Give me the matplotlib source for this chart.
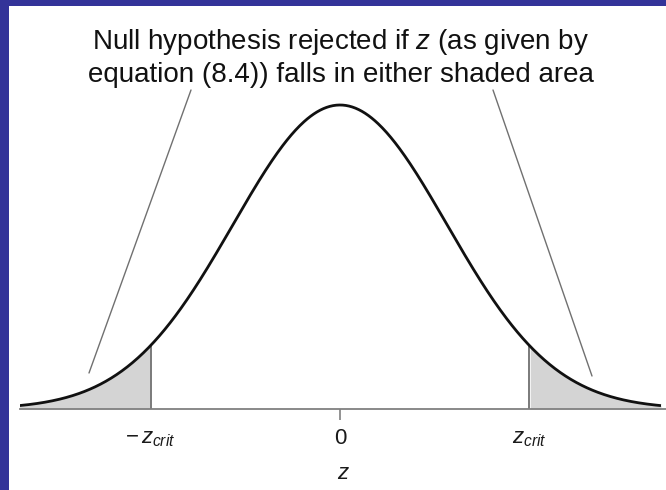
import numpy as np
import matplotlib
matplotlib.use("Agg")
import matplotlib.pyplot as plt
from matplotlib.patches import Rectangle
from matplotlib import font_manager

# Font choice: narrow sans if available
names = {f.name for f in font_manager.fontManager.ttflist}
base_font = "Liberation Sans Narrow" if "Liberation Sans Narrow" in names else "Liberation Sans"
plt.rcParams["font.family"] = [base_font, "DejaVu Sans"]
plt.rcParams["mathtext.fontset"] = "custom"
plt.rcParams["mathtext.rm"] = base_font
plt.rcParams["mathtext.it"] = base_font + ":italic"

# Parameters of the standard normal sampling distribution
z_crit = 1.77
z_min, z_max = -3.0, 3.0
tick_positions = [-z_crit, 0.0, z_crit]
tick_labels = [r"$-\,z_{crit}$", "0", r"$z_{crit}$"]
title_lines = [r"Null hypothesis rejected if $z$ (as given by",
               "equation (8.4)) falls in either shaded area"]
axis_label = r"$z$"

W, H = 666, 490
fig = plt.figure(figsize=(W / 100, H / 100), dpi=100)
fig.patch.set_facecolor("#333399")
# white panel inside the frame
fig.patches.append(Rectangle((9 / W, 0), 1 - 9 / W, (H - 6) / H,
                             transform=fig.transFigure, facecolor="white",
                             edgecolor="none", zorder=-10))

px_per_z = 107.0
left_px, right_px, base_px = 20, 666, 409  # pixel positions (from left / top)
center_px = 340
ax = fig.add_axes([left_px / W, (H - base_px) / H, (right_px - left_px) / W, base_px / H])
ax.set_zorder(5)
ax.set_facecolor("none")
ax.set_xlim((left_px - center_px) / px_per_z, (right_px - center_px) / px_per_z)
px_per_y = 304 / 0.39894
ax.set_ylim(0, base_px / px_per_y)

z = np.linspace(z_min, z_max, 600)
pdf = np.exp(-z ** 2 / 2) / np.sqrt(2 * np.pi)

shade = "#d4d4d4"
edge = "#707070"
lm = z <= -z_crit
rm = z >= z_crit
ax.fill_between(z[lm], 0, pdf[lm], color=shade, lw=0, zorder=1)
ax.fill_between(z[rm], 0, pdf[rm], color=shade, lw=0, zorder=1)
for zc in (-z_crit, z_crit):
    ax.plot([zc, zc], [0, np.exp(-zc ** 2 / 2) / np.sqrt(2 * np.pi)],
            color=edge, lw=1.3, zorder=2)
ax.plot(z, pdf, color="#111111", lw=2.0, zorder=3, solid_capstyle="butt")

for s in ("top", "right", "left"):
    ax.spines[s].set_visible(False)
ax.spines["bottom"].set_color("#808080")
ax.spines["bottom"].set_linewidth(1.3)
ax.set_yticks([])
ax.set_xticks(tick_positions)
ax.set_xticklabels(tick_labels, fontsize=16, color="#1a1a1a")
ax.tick_params(axis="x", which="major", length=8, width=1.2, color="#808080", pad=6)
# only the origin carries a visible tick mark
for i, t in enumerate(ax.xaxis.get_major_ticks()):
    if tick_positions[i] != 0.0:
        t.tick1line.set_visible(False)
ax.set_xlabel(axis_label, fontsize=16, color="#1a1a1a", labelpad=10)

# leader lines from the caption to both rejection regions
for (xt, yt), (xe, ye) in [((191, 90), (89, 373)), ((493, 90), (592, 376))]:
    ax.annotate("", xy=((xe - center_px) / px_per_z, (base_px - ye) / px_per_y),
                xycoords="data",
                xytext=(xt / W, (H - yt) / H), textcoords="figure fraction",
                arrowprops=dict(arrowstyle="-", color="#707070", lw=1.0,
                                shrinkA=0, shrinkB=0))

fig.text(341 / W, (H - 42) / H, title_lines[0], ha="center", va="center",
         fontsize=20, color="#111111")
fig.text(341 / W, (H - 75) / H, title_lines[1], ha="center", va="center",
         fontsize=20, color="#111111")

fig.savefig("out.png", dpi=100)
